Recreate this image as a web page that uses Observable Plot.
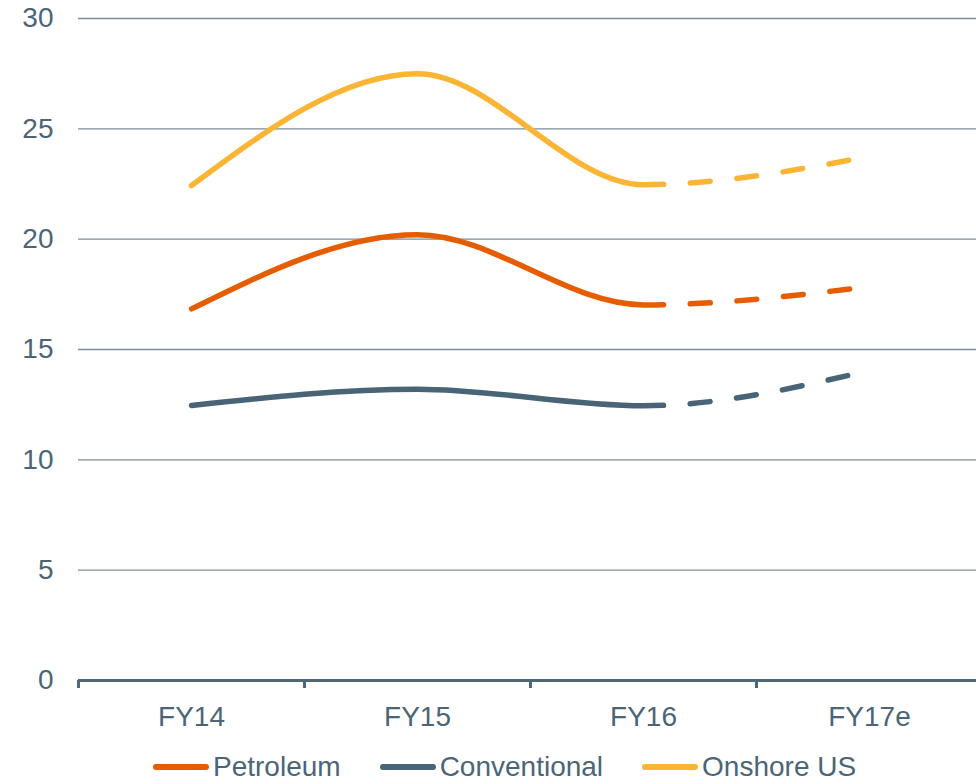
<!DOCTYPE html>
<html>
<head>
<meta charset="utf-8">
<script src="https://cdn.jsdelivr.net/npm/d3@7"></script>
<script src="https://cdn.jsdelivr.net/npm/@observablehq/plot@0.6"></script>
<style>
  html, body { margin: 0; padding: 0; background: #fff; overflow: hidden; }
  #wrap { position: relative; width: 976px; height: 784px; font-family: "Liberation Sans", Arial, sans-serif; }
  #legend { position: absolute; left: 153px; top: 756px; display: flex; align-items: center; height: 22px; }
  .item { display: flex; align-items: center; margin-right: 39px; }
  .sw { width: 56px; height: 6px; border-radius: 3px; margin-right: 4px; }
  .lbl { font-size: 28px; line-height: 22px; color: #4b6577; white-space: nowrap; }
</style>
</head>
<body>
<div id="wrap"><div id="chart"></div><div id="legend"></div></div>
<script>
const categories = ["FY14", "FY15", "FY16", "FY17e"];
const petroleum = [16.84, 20.2, 17.02, 17.85];
const conventional = [12.46, 13.2, 12.45, 14.05];
const onshore = [22.43, 27.5, 22.47, 23.75];
const seriesNames = ["Petroleum", "Conventional", "Onshore US"];
const seriesColors = ["#e65c00", "#486476", "#fbb535"];
const yTicks = [0, 5, 10, 15, 20, 25, 30];
const forecastFrom = "FY16";

const seriesValues = [petroleum, conventional, onshore];
const rows = [];
seriesNames.forEach((name, s) => {
  categories.forEach((c, i) => rows.push({series: name, idx: i, cat: c, value: seriesValues[s][i]}));
});

const textColor = "#4b6577";
const font = "Liberation Sans, Arial, sans-serif";
const W = 976, H = 745;

const plot = Plot.plot({
  width: W,
  height: H,
  marginLeft: 78,
  marginRight: 0,
  marginTop: 18,
  marginBottom: H - 680,
  style: {fontFamily: font, fontSize: "28px", color: textColor, background: "#fff"},
  x: {type: "linear", domain: [-0.5, categories.length - 0.5], range: [78, 982]},
  y: {domain: [0, 30]},
  color: {domain: seriesNames, range: seriesColors},
  marks: [
    Plot.ruleY(yTicks.filter(d => d > 0), {stroke: "#7b8d9c", strokeWidth: 1.3}),
    Plot.ruleY([0], {stroke: "#4e6778", strokeWidth: 3}),
    Plot.axisY({ticks: yTicks, tickSize: 0, tickPadding: 25, fontSize: 28, fill: textColor, label: null}),
    Plot.axisX({ticks: d3.range(categories.length).map(i => i - 0.5), tickSize: 8, strokeWidth: 3, stroke: "#4e6778", tickFormat: () => "", label: null}),
    Plot.axisX({ticks: d3.range(categories.length), tickSize: 0, tickPadding: 26, tickFormat: i => categories[i], fontSize: 28, fill: textColor, label: null}),
    Plot.line(rows, {x: "idx", y: "value", z: "series", stroke: "series", strokeWidth: 5.5, strokeLinecap: "round", strokeLinejoin: "round", curve: "monotone-x"})
  ]
});

document.getElementById("chart").appendChild(plot);

// Solid up to the forecast year, dashed afterwards
const xF = plot.scale("x").apply(categories.indexOf(forecastFrom));
const paths = plot.querySelectorAll('g[aria-label="line"] path');
const dash = 20, gap = 26.7;
paths.forEach(p => {
  const total = p.getTotalLength();
  let lo = 0, hi = total;
  for (let k = 0; k < 40; k++) {
    const mid = (lo + hi) / 2;
    if (p.getPointAtLength(mid).x < xF) lo = mid; else hi = mid;
  }
  const arr = [lo + dash, gap];
  let sum = lo + dash + gap;
  while (sum < total + 100) { arr.push(dash, gap); sum += dash + gap; }
  p.setAttribute("stroke-dasharray", arr.map(v => v.toFixed(2)).join(" "));
});

const legend = document.getElementById("legend");
seriesNames.forEach((name, i) => {
  const item = document.createElement("div");
  item.className = "item";
  const sw = document.createElement("div");
  sw.className = "sw";
  sw.style.background = seriesColors[i];
  const lbl = document.createElement("span");
  lbl.className = "lbl";
  lbl.textContent = name;
  item.appendChild(sw);
  item.appendChild(lbl);
  legend.appendChild(item);
});
</script>
</body>
</html>
